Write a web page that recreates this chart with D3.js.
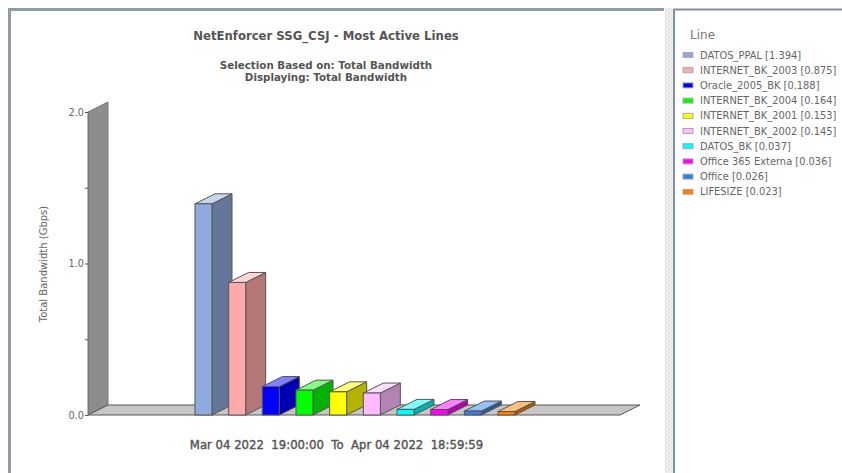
<!DOCTYPE html>
<html>
<head>
<meta charset="utf-8">
<script src="https://cdn.jsdelivr.net/npm/d3@7"></script>
<style>
html, body { margin: 0; padding: 0; background: #fff; overflow: hidden; }
text { font-family: "DejaVu Sans", sans-serif; fill: #555; }
.heavy { stroke: #555; stroke-width: 0.4; }
</style>
</head>
<body>
<div id="chart"></div>
<script>
const lines = ["DATOS_PPAL", "INTERNET_BK_2003", "Oracle_2005_BK", "INTERNET_BK_2004", "INTERNET_BK_2001", "INTERNET_BK_2002", "DATOS_BK", "Office 365 Externa", "Office", "LIFESIZE"]
const bandwidth = [1.394, 0.875, 0.188, 0.164, 0.153, 0.145, 0.037, 0.036, 0.026, 0.023]
const colors = ["#8FAADC", "#FFAAAA", "#0000FF", "#00FF00", "#FFFF00", "#FFBBFF", "#00FFFF", "#FF00FF", "#3380E0", "#FF8000"]
const yTicks = [0, 0.5, 1, 1.5, 2]

const width = 842
const height = 473
const depthX = 20
const depthY = 10

const svg = d3.select("#chart").append("svg")
    .attr("width", width)
    .attr("height", height)
    .style("display", "block")

// splitter texture between the two panels
const grip = svg.append("defs").append("pattern")
    .attr("id", "grip")
    .attr("width", 4).attr("height", 4)
    .attr("patternUnits", "userSpaceOnUse")
grip.append("rect").attr("width", 4).attr("height", 4).attr("fill", "#EFEFEF")
grip.append("rect").attr("x", 1).attr("y", 1).attr("width", 1).attr("height", 1).attr("fill", "#C8C8C8")
grip.append("rect").attr("x", 3).attr("y", 3).attr("width", 1).attr("height", 1).attr("fill", "#D4D4D4")

// panel frames
const frame = "#8E9BA6"
svg.append("path").attr("d", "M9.5,473V9.5H664").attr("fill", "none").attr("stroke", frame).attr("stroke-width", 3)
svg.append("path").attr("d", "M674,473V9.5H842").attr("fill", "none").attr("stroke", "#7F90A0").attr("stroke-width", 2)
svg.append("rect").attr("x", 665).attr("y", 8).attr("width", 8).attr("height", 465).attr("fill", "url(#grip)")

const y = d3.scaleLinear().domain([0, 2]).range([415, 112])
const x = d3.scaleBand().domain(lines).range([195, 515]).paddingInner(0.495).paddingOuter(0)

const floorLeft = 88
const floorRight = 620
const y0 = y(0)

function quad(pts) {
    return "M" + pts.map(p => p.join(",")).join("L") + "Z"
}

// back wall and floor
svg.append("path")
    .attr("d", quad([[floorLeft, y(2)], [floorLeft + depthX, y(2) - depthY], [floorLeft + depthX, y0 - depthY], [floorLeft, y0]]))
    .attr("fill", "#8C8C8C")
    .attr("stroke", "#777")
svg.append("path")
    .attr("d", quad([[floorLeft, y0], [floorLeft + depthX, y0 - depthY], [floorRight + depthX, y0 - depthY], [floorRight, y0]]))
    .attr("fill", "#C6C6C6")
    .attr("stroke", "#555")

// y axis
const axis = d3.axisLeft(y)
    .tickValues(yTicks)
    .tickSize(3)
    .tickPadding(1)
    .tickFormat(d => d % 1 === 0 ? d3.format(".1f")(d) : "")
const gAxis = svg.append("g")
    .attr("transform", `translate(${floorLeft},0)`)
    .call(axis)
gAxis.select(".domain").attr("stroke", "#777")
gAxis.selectAll(".tick line").attr("stroke", "#555")
gAxis.selectAll("text").attr("font-size", 9.7).style("font-family", "DejaVu Sans").style("fill", "#666")

// bars
const bars = svg.append("g")
    .selectAll("g")
    .data(lines.map((name, i) => ({ name, value: bandwidth[i], color: colors[i] })))
    .join("g")

const edge = "#555"
bars.append("path")
    .attr("d", d => {
        const r = x(d.name) + x.bandwidth()
        return quad([[r, y(d.value)], [r + depthX, y(d.value) - depthY], [r + depthX, y0 - depthY], [r, y0]])
    })
    .attr("fill", d => d3.color(d.color).darker(1))
    .attr("stroke", edge)
bars.append("path")
    .attr("d", d => {
        const l = x(d.name), r = l + x.bandwidth(), t = y(d.value)
        return quad([[l, t], [l + depthX, t - depthY], [r + depthX, t - depthY], [r, t]])
    })
    .attr("fill", d => d3.interpolateRgb(d.color, "#fff")(0.5))
    .attr("stroke", edge)
bars.append("rect")
    .attr("x", d => x(d.name))
    .attr("y", d => y(d.value))
    .attr("width", x.bandwidth())
    .attr("height", d => y0 - y(d.value))
    .attr("fill", d => d.color)
    .attr("stroke", edge)

// titles
svg.append("text").attr("x", 326).attr("y", 40).attr("text-anchor", "middle")
    .attr("font-size", 11.7).attr("font-weight", "bold").text("NetEnforcer SSG_CSJ - Most Active Lines")
svg.append("text").attr("x", 326).attr("y", 69).attr("text-anchor", "middle")
    .attr("font-size", 10.3).attr("font-weight", "bold").text("Selection Based on: Total Bandwidth")
svg.append("text").attr("x", 326).attr("y", 81).attr("text-anchor", "middle")
    .attr("font-size", 10.3).attr("font-weight", "bold").text("Displaying: Total Bandwidth")
svg.append("text").attr("class", "heavy").attr("x", 336.5).attr("y", 449).attr("text-anchor", "middle")
    .attr("font-size", 11.7)
    .style("white-space", "pre").text("Mar 04 2022  19:00:00  To  Apr 04 2022  18:59:59")
svg.append("text").attr("transform", "translate(47,264) rotate(-90)").attr("text-anchor", "middle")
    .attr("font-size", 10).style("fill", "#666").text("Total Bandwidth (Gbps)")

// legend
svg.append("text").attr("x", 690).attr("y", 39).attr("font-size", 12).style("fill", "#777").text("Line")
const legend = svg.append("g")
    .selectAll("g")
    .data(lines.map((name, i) => ({ name, value: bandwidth[i], color: colors[i] })))
    .join("g")
    .attr("transform", (d, i) => `translate(683,${55 + i * 15.2})`)
legend.append("rect")
    .attr("x", 0).attr("y", -2.5).attr("width", 10).attr("height", 5)
    .attr("fill", d => d.color).attr("stroke", "#aaa")
legend.append("text")
    .attr("x", 17).attr("y", 3.5).attr("font-size", 9.9).style("fill", "#666")
    .text(d => `${d.name} [${d.value.toFixed(3)}]`)
</script>
</body>
</html>
